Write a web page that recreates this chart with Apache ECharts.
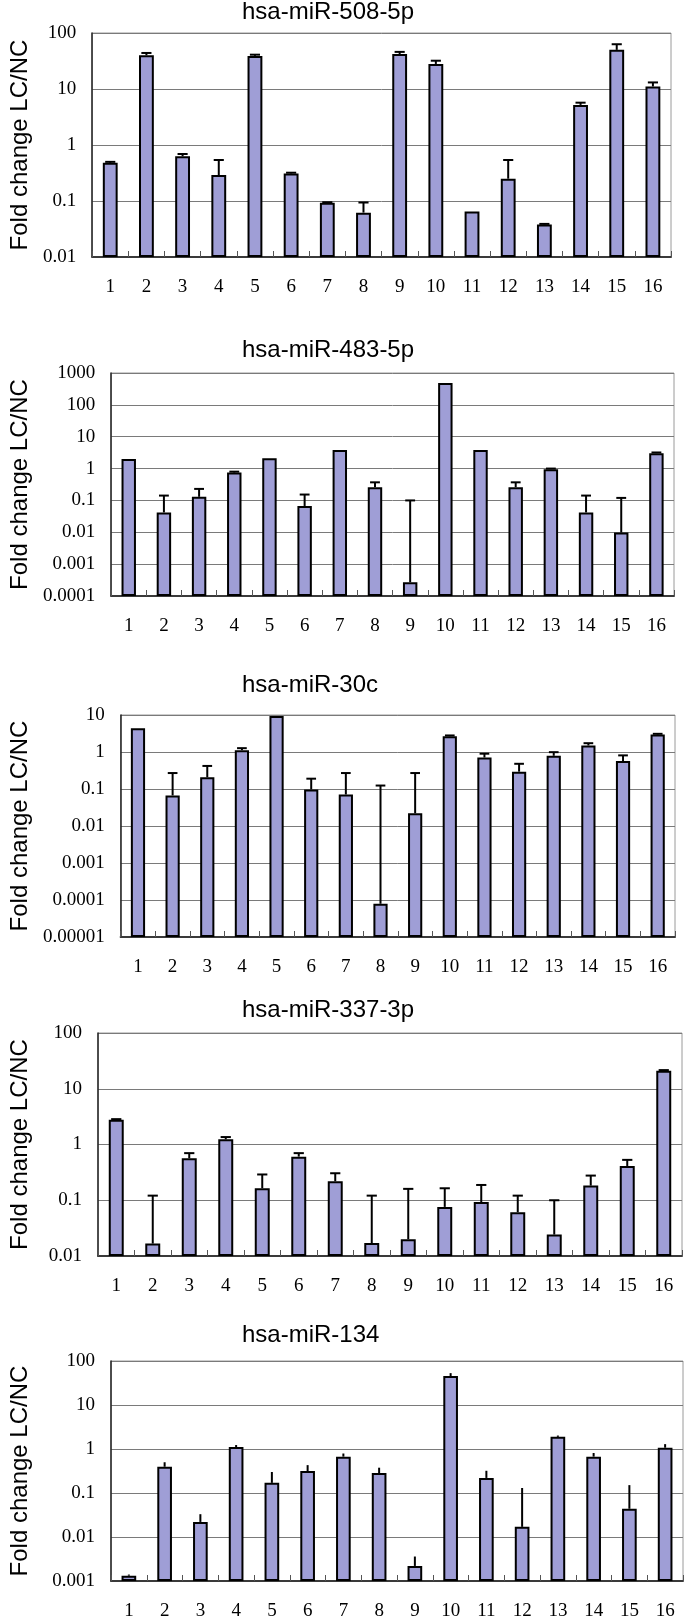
<!DOCTYPE html>
<html><head><meta charset="utf-8">
<script src="https://cdn.jsdelivr.net/npm/echarts@6/dist/echarts.min.js"></script>
<style>html,body{margin:0;padding:0;background:#fff}#c{width:685px;height:1621px}</style>
</head><body><div id="c"></div>
<script>
// ---- data ----
const categories = ['1','2','3','4','5','6','7','8','9','10','11','12','13','14','15','16'];
const titles = ['hsa-miR-508-5p','hsa-miR-483-5p','hsa-miR-30c','hsa-miR-337-3p','hsa-miR-134'];
const yTitle = 'Fold change LC/NC';

const ticks508 = ['0.01','0.1','1','10','100'];
const ticks483 = ['0.0001','0.001','0.01','0.1','1','10','100','1000'];
const ticks30c = ['0.00001','0.0001','0.001','0.01','0.1','1','10'];
const ticks337 = ['0.01','0.1','1','10','100'];
const ticks134 = ['0.001','0.01','0.1','1','10','100'];

const mean508 = [0.48, 40, 0.63, 0.29, 39, 0.31, 0.093, 0.062, 42, 28, 0.065, 0.25, 0.038, 5.2, 50, 11.1];
const upper508 = [0.50, 44, 0.69, 0.54, 41, 0.32, 0.095, 0.094, 46, 32, 0.065, 0.54, 0.039, 5.7, 63, 13.1];

const mean483 = [1.98, 0.042, 0.13, 0.75, 2.1, 0.067, 3.8, 0.26, 0.00027, 485, 3.8, 0.26, 0.96, 0.042, 0.0098, 3.05];
const upper483 = [1.98, 0.142, 0.23, 0.80, 2.1, 0.153, 3.8, 0.37, 0.1, 485, 3.8, 0.37, 1.0, 0.142, 0.12, 3.2];

const mean30c = [4.38, 0.067, 0.207, 1.12, 9.4, 0.097, 0.071, 0.000079, 0.022, 2.67, 0.71, 0.294, 0.79, 1.5, 0.57, 2.96];
const upper30c = [4.38, 0.27, 0.42, 1.27, 9.4, 0.19, 0.27, 0.124, 0.27, 2.8, 0.9, 0.48, 0.99, 1.73, 0.81, 3.1];

const mean337 = [2.79, 0.0167, 0.566, 1.24, 0.164, 0.606, 0.219, 0.0171, 0.020, 0.076, 0.093, 0.061, 0.0242, 0.183, 0.412, 21.1];
const upper337 = [2.85, 0.121, 0.70, 1.36, 0.29, 0.70, 0.305, 0.121, 0.16, 0.164, 0.188, 0.121, 0.1, 0.277, 0.53, 21.6];

const mean134 = [0.00132, 0.395, 0.022, 1.11, 0.17, 0.316, 0.67, 0.285, 0.0022, 45.4, 0.22, 0.017, 1.89, 0.67, 0.0438, 1.07];
const upper134 = [0.0014, 0.50, 0.033, 1.23, 0.30, 0.43, 0.79, 0.376, 0.0036, 53, 0.32, 0.13, 2.02, 0.81, 0.151, 1.29];

// ---- layout (positions / styles) ----
const panels = [
  {ticks: ticks508, mean: mean508, upper: upper508, left: 85,  right: 14, top: 33,   height: 224, titleTop: 0,    cap: 0.28},
  {ticks: ticks483, mean: mean483, upper: upper483, left: 107, right: 11, top: 373,  height: 223, titleTop: 338,  cap: 0.28},
  {ticks: ticks30c, mean: mean30c, upper: upper30c, left: 117, right: 10, top: 715,  height: 222, titleTop: 673,  cap: 0.28},
  {ticks: ticks337, mean: mean337, upper: upper337, left: 95,  right: 3,  top: 1033, height: 223, titleTop: 998,  cap: 0.28},
  {ticks: ticks134, mean: mean134, upper: upper134, left: 108, right: 2,  top: 1361, height: 223, titleTop: 1323, cap: 0}
];

const BAR = '#9f9ed6';
const serif = "'Liberation Serif', 'DejaVu Serif', serif";
const sans = "'Liberation Sans', Arial, sans-serif";

const option = {
  backgroundColor: '#fff',
  animation: false,
  title: [], grid: [], xAxis: [], yAxis: [], series: []
};

panels.forEach((p, k) => {
  const minV = parseFloat(p.ticks[0]);
  const maxV = parseFloat(p.ticks[p.ticks.length - 1]);
  const minExp = Math.round(Math.log10(minV));
  option.title.push({
    text: titles[k], left: 242, top: p.titleTop, padding: 0,
    textStyle: {fontFamily: sans, fontSize: 24, fontWeight: 'normal', color: '#000'}
  });
  option.grid.push({
    left: p.left, right: p.right, top: p.top, height: p.height,
    show: true, borderColor: '#9a9a9a', borderWidth: 1, backgroundColor: 'transparent'
  });
  option.xAxis.push({
    type: 'category', gridIndex: k, data: categories,
    axisLine: {lineStyle: {color: '#3a3a3a', width: 2}},
    axisTick: {show: true, inside: true, length: 6, lineStyle: {color: '#555', width: 1}},
    axisLabel: {margin: 21, fontFamily: serif, fontSize: 19, color: '#000'},
    splitLine: {show: false}
  });
  option.yAxis.push({
    type: 'log', logBase: 10, gridIndex: k, min: minV, max: maxV, startValue: minV,
    splitNumber: 10,
    name: yTitle, nameLocation: 'middle', nameGap: p.left - 29,
    nameTextStyle: {fontFamily: sans, fontSize: 24, color: '#000'},
    axisLine: {show: true, lineStyle: {color: '#222', width: 1.5}},
    axisTick: {show: false},
    axisLabel: {
      margin: 16, fontFamily: serif, fontSize: 19, color: '#000',
      formatter: v => p.ticks[Math.round(Math.log10(v)) - minExp] || ''
    },
    splitLine: {show: true, lineStyle: {color: '#7a7a7a', width: 1}},
    minorTick: {show: false}
  });
  option.series.push({
    type: 'bar', xAxisIndex: k, yAxisIndex: k, data: p.mean,
    barWidth: '41%',
    itemStyle: {color: BAR, borderColor: '#000', borderWidth: 2},
    z: 3
  });
  const capRatio = p.cap;
  option.series.push({
    type: 'custom', xAxisIndex: k, yAxisIndex: k, z: 4,
    data: p.mean.map((v, i) => [i, v, p.upper[i]]),
    encode: {x: 0, y: 1},
    renderItem: (params, api) => {
      const i = api.value(0), v = api.value(1), u = api.value(2);
      if (!(u > v * 1.005)) return null;
      const a = api.coord([i, v]);
      const b = api.coord([i, u]);
      const w = api.size([1, 0])[0] * capRatio;
      const children = [{
        type: 'line', shape: {x1: a[0], y1: a[1], x2: b[0], y2: b[1]},
        style: {stroke: '#000', lineWidth: 2}
      }];
      if (w > 0) children.push({
        type: 'line', shape: {x1: b[0] - w / 2, y1: b[1], x2: b[0] + w / 2, y2: b[1]},
        style: {stroke: '#000', lineWidth: 2}
      });
      return {type: 'group', children};
    }
  });
});

const chart = echarts.init(document.getElementById('c'), null, {renderer: 'canvas'});
chart.setOption(option);
</script>
</body></html>
